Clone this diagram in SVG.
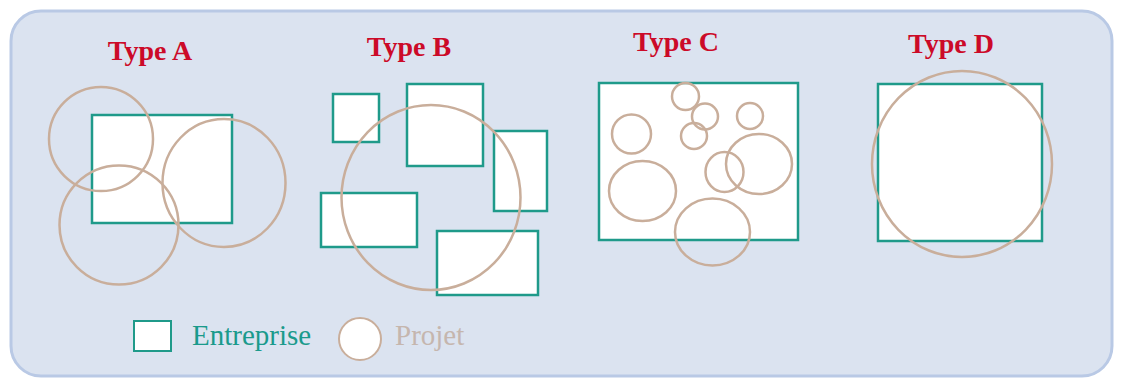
<svg xmlns="http://www.w3.org/2000/svg" width="1123" height="381" viewBox="0 0 1123 381">
<style>
.ent{fill:#ffffff;stroke:#1f9a8a;stroke-width:2.5}
.prj{fill:none;stroke:#c9ae9b;stroke-width:2.5}
.title{font-family:"Liberation Serif",serif;font-weight:bold;font-size:28px;fill:#cc0a28;text-anchor:middle}
.leg{font-family:"Liberation Serif",serif;font-size:29px}
</style>
<rect x="11" y="11" width="1101" height="365" rx="30" ry="30" fill="#dbe3f0" stroke="#b9c9e5" stroke-width="3"/>
<g id="typeA">
<text class="title" x="150" y="60">Type A</text>
<rect class="ent" x="92" y="115" width="140" height="108"/>
<circle class="prj" cx="101" cy="139" r="52"/>
<circle class="prj" cx="119" cy="225" r="59.5"/>
<ellipse class="prj" cx="224" cy="183" rx="61.5" ry="64"/>
</g>
<g id="typeB">
<text class="title" x="409" y="56">Type B</text>
<rect class="ent" x="333" y="94" width="46" height="48"/>
<rect class="ent" x="407" y="84" width="76" height="82"/>
<rect class="ent" x="494" y="131" width="53" height="80"/>
<rect class="ent" x="321" y="193" width="96" height="54"/>
<rect class="ent" x="437" y="231" width="101" height="64"/>
<ellipse class="prj" cx="431" cy="197.5" rx="89.5" ry="92.5"/>
</g>
<g id="typeC">
<text class="title" x="676" y="51">Type C</text>
<rect class="ent" x="599" y="83" width="199" height="157"/>
<circle class="prj" cx="685.5" cy="96.5" r="13.5"/>
<circle class="prj" cx="705" cy="116.5" r="13"/>
<circle class="prj" cx="750" cy="116" r="13"/>
<circle class="prj" cx="694" cy="136" r="13"/>
<circle class="prj" cx="631.5" cy="134" r="19.5"/>
<ellipse class="prj" cx="642.5" cy="191" rx="33.5" ry="30"/>
<ellipse class="prj" cx="724.5" cy="172" rx="19" ry="20"/>
<ellipse class="prj" cx="759" cy="164" rx="33" ry="30"/>
<ellipse class="prj" cx="712.5" cy="232" rx="37.5" ry="33.5"/>
</g>
<g id="typeD">
<text class="title" x="951" y="53">Type D</text>
<rect class="ent" x="878" y="84" width="164" height="157"/>
<ellipse class="prj" cx="962" cy="164" rx="90" ry="93"/>
</g>
<g id="legend">
<rect x="134" y="321" width="37" height="30" fill="#ffffff" stroke="#1f9a8a" stroke-width="2"/>
<text class="leg" x="192" y="345" fill="#1a9a8c">Entreprise</text>
<circle cx="360" cy="339" r="21" fill="#ffffff" stroke="#c9ae9b" stroke-width="2"/>
<text class="leg" x="395" y="345" fill="#c5b6ae">Projet</text>
</g>
<g id="connectors"/>
</svg>
